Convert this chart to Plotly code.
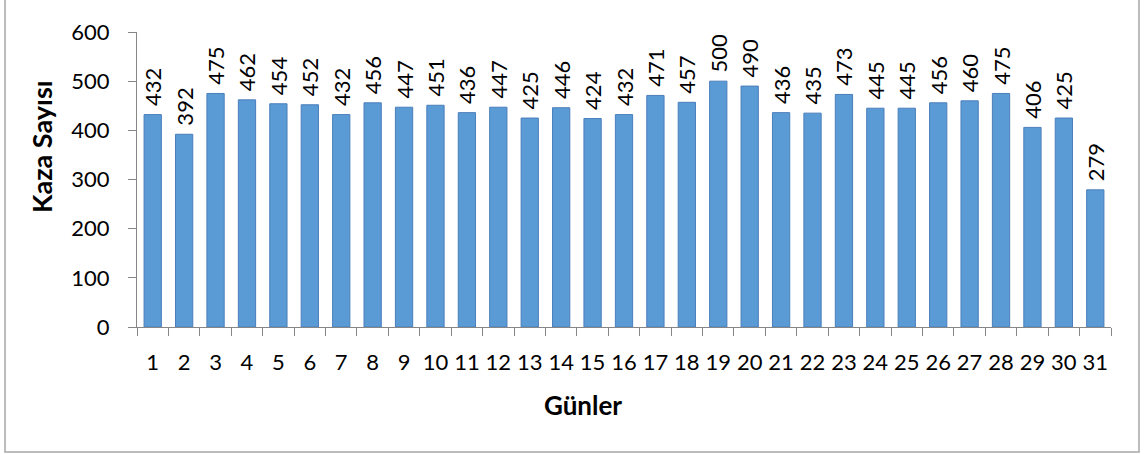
import plotly.graph_objects as go

days = [str(i) for i in range(1, 32)]
counts = [432, 392, 475, 462, 454, 452, 432, 456, 447, 451, 436, 447, 425, 446, 424, 432,
          471, 457, 500, 490, 436, 435, 473, 445, 445, 456, 460, 475, 406, 425, 279]
y_ticks = [0, 100, 200, 300, 400, 500, 600]
x_title = "Günler"
y_title = "Kaza Sayısı"

FONT = "Lato"

fig = go.Figure(go.Bar(
    x=days, y=counts,
    marker=dict(color="#5B9BD5", line=dict(color="#4A7EBB", width=1)),
    text=[" " + str(v) for v in counts],
    textposition="outside",
    textangle=-90,
    textfont=dict(family=FONT, size=22, color="black"),
    cliponaxis=False,
))

W, H = 1144, 454
l, r, t, b = 137, 33, 32, 127
pw, ph = W - l - r, H - t - b


def px(x):
    return (x - l) / pw


def py(y):
    return (H - b - y) / ph


fig.update_layout(
    width=W, height=H,
    margin=dict(l=l, r=r, t=t, b=b, autoexpand=False),
    paper_bgcolor="white", plot_bgcolor="white",
    bargap=0.45,
    showlegend=False,
    font=dict(family=FONT, color="black"),
    uniformtext=dict(minsize=22, mode="show"),
    xaxis=dict(
        type="category",
        automargin=False,
        tickson="boundaries",
        tickangle=0,
        ticks="outside", ticklen=8, tickcolor="#868686",
        showline=True, linecolor="#868686", linewidth=1,
        showgrid=False,
        tickfont=dict(family=FONT, size=22),
        ticklabelstandoff=16,
    ),
    yaxis=dict(
        range=[0, 600],
        automargin=False,
        tickvals=y_ticks,
        ticks="outside", ticklen=8, tickcolor="#868686",
        showline=True, linecolor="#868686", linewidth=1,
        showgrid=False, zeroline=False,
        tickfont=dict(family=FONT, size=22),
        ticklabelstandoff=14,
    ),
    annotations=[
        dict(text="<b>%s</b>" % x_title, xref="paper", yref="paper",
             x=px(583), y=py(405), xanchor="center", yanchor="middle",
             showarrow=False, font=dict(family=FONT, size=26)),
        dict(text="<b>%s</b>" % y_title, xref="paper", yref="paper",
             x=px(41), y=py(147), xanchor="center", yanchor="middle", textangle=-90,
             showarrow=False, font=dict(family=FONT, size=27)),
    ],
    shapes=[dict(
        type="rect", xref="paper", yref="paper",
        x0=px(5), x1=px(1139),
        y0=py(452), y1=py(-5),
        line=dict(color="#A6A6A6", width=1.5), fillcolor="rgba(0,0,0,0)", layer="below",
    )],
)

fig.write_html("out.html", config={"displayModeBar": False},
               post_script="document.body.style.margin='0px';document.body.style.padding='0px';")
